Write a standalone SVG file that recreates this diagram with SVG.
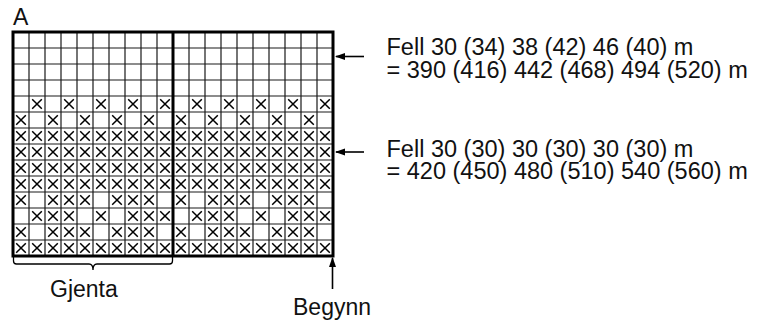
<svg xmlns="http://www.w3.org/2000/svg" xmlns:xlink="http://www.w3.org/1999/xlink" width="766" height="323" viewBox="0 0 766 323">
<style>
text{font-family:"Liberation Sans",Arial,Helvetica,sans-serif;fill:#111;}
.lbl{font-size:23.5px;}
.sm{font-size:23px;}
.thin{fill:none;stroke:#1a1a1a;stroke-width:1.2;}
.thick{fill:none;stroke:#000;stroke-width:3;}
.xm{fill:none;stroke:#000;stroke-width:1.5;}
.arr{fill:none;stroke:#000;stroke-width:1.6;marker-end:url(#ah);}
.brace{fill:none;stroke:#000;stroke-width:1.3;}
</style>
<defs>
<marker id="ah" markerWidth="10" markerHeight="8" refX="9" refY="4" orient="auto" markerUnits="userSpaceOnUse"><path d="M0,0.5 L10,4 L0,7.5 z" fill="#000"/></marker>
<path id="xx" class="xm" d="M-4.8,-4.8 L4.8,4.8 M4.8,-4.8 L-4.8,4.8"/>
<pattern id="pall" x="13" y="32" width="16" height="16" patternUnits="userSpaceOnUse"><use xlink:href="#xx" x="8" y="8"/></pattern>
<pattern id="podd" x="13" y="32" width="32" height="16" patternUnits="userSpaceOnUse"><use xlink:href="#xx" x="24" y="8"/></pattern>
<pattern id="peven" x="13" y="32" width="32" height="16" patternUnits="userSpaceOnUse"><use xlink:href="#xx" x="8" y="8"/></pattern>
<pattern id="pa" x="13" y="32" width="160" height="16" patternUnits="userSpaceOnUse">
<use xlink:href="#xx" x="8" y="8"/><use xlink:href="#xx" x="40" y="8"/><use xlink:href="#xx" x="56" y="8"/><use xlink:href="#xx" x="72" y="8"/><use xlink:href="#xx" x="104" y="8"/><use xlink:href="#xx" x="120" y="8"/><use xlink:href="#xx" x="136" y="8"/>
</pattern>
<pattern id="pb" x="13" y="32" width="160" height="16" patternUnits="userSpaceOnUse">
<use xlink:href="#xx" x="24" y="8"/><use xlink:href="#xx" x="40" y="8"/><use xlink:href="#xx" x="56" y="8"/><use xlink:href="#xx" x="88" y="8"/><use xlink:href="#xx" x="120" y="8"/><use xlink:href="#xx" x="136" y="8"/><use xlink:href="#xx" x="152" y="8"/>
</pattern>
</defs>
<rect width="766" height="323" fill="#fff"/>
<g id="chart">
<g id="marks">
<rect x="13" y="96" width="320" height="16" fill="url(#podd)"/>
<rect x="13" y="112" width="320" height="16" fill="url(#peven)"/>
<rect x="13" y="128" width="320" height="64" fill="url(#pall)"/>
<rect x="13" y="192" width="320" height="16" fill="url(#pa)"/>
<rect x="13" y="208" width="320" height="16" fill="url(#pb)"/>
<rect x="13" y="224" width="320" height="16" fill="url(#pa)"/>
<rect x="13" y="240" width="320" height="16" fill="url(#pall)"/>
</g>
<path id="gridlines" class="thin" d="M29,32V256M45,32V256M61,32V256M77,32V256M93,32V256M109,32V256M125,32V256M141,32V256M157,32V256M189,32V256M205,32V256M221,32V256M237,32V256M253,32V256M269,32V256M285,32V256M301,32V256M317,32V256M13,48H333M13,64H333M13,80H333M13,96H333M13,112H333M13,128H333M13,144H333M13,160H333M13,176H333M13,192H333M13,208H333M13,224H333M13,240H333"/>
<rect class="thick" x="13" y="32" width="320" height="224"/>
<path class="thick" d="M173,32V256"/>
</g>
<g id="label-A"><text class="sm" x="13" y="25">A</text></g>
<g id="repeat">
<path class="brace" d="M13.5,257V261Q13.5,264 16.5,264H89Q93,264 93,270Q93,264 97,264H169.5Q172.5,264 172.5,261V257"/>
<text class="sm" x="50" y="296.5">Gjenta</text>
</g>
<g id="start"><text class="sm" x="293" y="314.5">Begynn</text></g>
<g id="note1">
<text class="lbl" x="386.5" y="55">Fell 30 (34) 38 (42) 46 (40) m</text>
<text class="lbl" x="386.5" y="77.5">= 390 (416) 442 (468) 494 (520) m</text>
</g>
<g id="note2">
<text class="lbl" x="386.5" y="156.5">Fell 30 (30) 30 (30) 30 (30) m</text>
<text class="lbl" x="386.5" y="179">= 420 (450) 480 (510) 540 (560) m</text>
</g>
<g id="connectors">
<path class="arr" d="M364,56.5H336"/>
<path class="arr" d="M364,152H336"/>
<path class="arr" d="M332.5,289V258"/>
</g>
</svg>
